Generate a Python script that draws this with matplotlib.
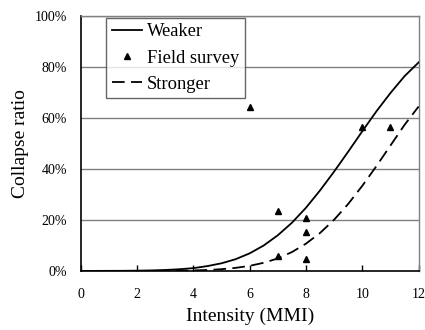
import matplotlib
matplotlib.use("Agg")
import matplotlib.pyplot as plt
from matplotlib.ticker import FuncFormatter

# curves (half-step samples)
mmi = [0, 0.5, 1, 1.5, 2, 2.5, 3, 3.5, 4, 4.5, 5, 5.5, 6, 6.5, 7, 7.5,
       8, 8.5, 9, 9.5, 10, 10.5, 11, 11.5, 12]
weaker = [0.0001, 0.0001, 0.0003, 0.0005, 0.001, 0.002, 0.0037, 0.0066, 0.011,
          0.019, 0.030, 0.046, 0.069, 0.100, 0.140, 0.189, 0.248, 0.316, 0.390,
          0.468, 0.548, 0.626, 0.698, 0.764, 0.818]
stronger = [0, 0, 0, 0, 0.0001, 0.0002, 0.0005, 0.001, 0.002, 0.0038, 0.0068,
            0.012, 0.020, 0.032, 0.049, 0.074, 0.107, 0.149, 0.201, 0.263,
            0.334, 0.411, 0.492, 0.573, 0.645]

# field survey points
survey_x = [6, 7, 7, 8, 8, 8, 10, 11]
survey_y = [0.643, 0.235, 0.060, 0.209, 0.154, 0.046, 0.565, 0.565]

xticks = [0, 2, 4, 6, 8, 10, 12]
yticks = [0, 0.2, 0.4, 0.6, 0.8, 1.0]

plt.rcParams['font.family'] = ['Liberation Serif', 'DejaVu Serif']

fig = plt.figure(figsize=(4.25, 3.3), dpi=100)
ax = fig.add_axes([0.19, 0.179, 0.795, 0.7725])

for y in yticks[1:]:
    ax.axhline(y, color='#808080', lw=1.0, zorder=1)

ax.plot(mmi, weaker, color='black', lw=1.3, label='Weaker', zorder=3)
ax.plot(survey_x, survey_y, linestyle='none', marker='^', color='black',
        markersize=5, label='Field survey', zorder=4)
ax.plot(mmi, stronger, color='black', lw=1.3, linestyle=(0, (7, 3.5)),
        label='Stronger', zorder=3)

ax.set_xlim(0, 12)
ax.set_ylim(0, 1.0)
ax.set_xticks(xticks)
ax.set_yticks(yticks)
ax.yaxis.set_major_formatter(FuncFormatter(lambda v, p: f"{v*100:.0f}%"))

ax.tick_params(axis='x', direction='in', length=4, width=1, pad=12, labelsize=10)
ax.tick_params(axis='y', length=0, pad=10, labelsize=10)

for s in ['left', 'bottom']:
    ax.spines[s].set_color('black')
    ax.spines[s].set_linewidth(1.2)
for s in ['top', 'right']:
    ax.spines[s].set_color('#808080')
    ax.spines[s].set_linewidth(1.0)

ax.set_xlabel('Intensity (MMI)', fontsize=14, labelpad=5)
ax.set_ylabel('Collapse ratio', fontsize=14, labelpad=4)

leg = ax.legend(loc='upper left', bbox_to_anchor=(0.076, 0.993), fontsize=13.3,
                frameon=True, fancybox=False, handlelength=1.6,
                handletextpad=0.3, labelspacing=0.5, borderpad=0.3,
                borderaxespad=0)
leg.get_frame().set_edgecolor('#404040')
leg.get_frame().set_linewidth(1.0)

fig.savefig('out.png', dpi=100)
